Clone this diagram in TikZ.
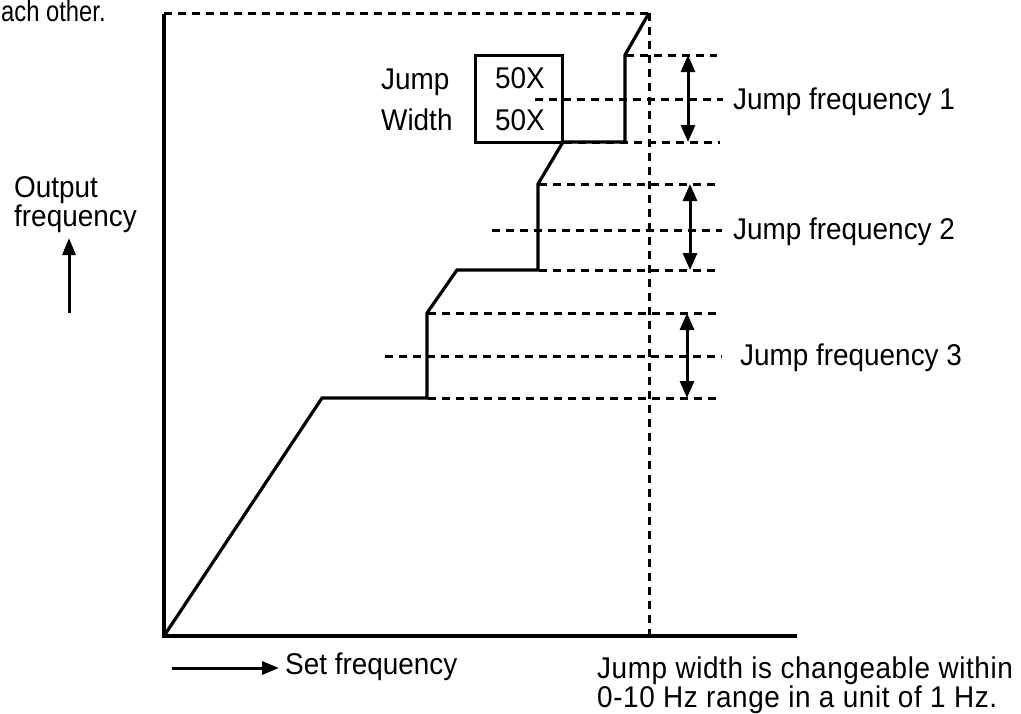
\documentclass[tikz,border=0pt]{standalone}
\usepackage{fontspec}
\setmainfont[FakeStretch=0.93]{Liberation Sans}
\newfontfamily\narrowfont[FakeStretch=0.82]{Liberation Sans}
\usetikzlibrary{arrows.meta}
\begin{document}
\begin{tikzpicture}[x=1pt,y=-1pt,
  txt/.style={inner sep=0pt,font=\fontsize{30}{33}\selectfont},
  axisline/.style={line width=3.6pt,line cap=rect},
  curve/.style={line width=3.2pt,line join=miter},
  dashline/.style={line width=3pt,dash pattern=on 8pt off 6pt},
  jumparrow/.style={line width=3pt,{Triangle[length=17pt,width=14pt]}-{Triangle[length=17pt,width=14pt]},shorten <=-1pt,shorten >=-1pt},
  plainarrow/.style={line width=3pt,-{Triangle[length=17pt,width=13pt]}}]
\useasboundingbox (0,0) rectangle (1021,713);
% axes
\coordinate (O) at (164,636);
\coordinate (ytop) at (164,16);
\coordinate (xend) at (795,636);
\draw[axisline] (ytop) -- (O) -- (xend);
% top dashed & vertical dotted
\coordinate (tl) at (164,13);
\coordinate (tr) at (649,13);
\coordinate (vb) at (649,636);
\draw[dashline] (tl) -- (tr);
\draw[dashline] (tr) -- (vb);
% step curve
\coordinate (p0) at (164,636);
\coordinate (p1) at (322,398);
\coordinate (p2) at (427,398);
\coordinate (p3) at (427,313);
\coordinate (p4) at (457,270);
\coordinate (p5) at (538,270);
\coordinate (p6) at (538,184);
\coordinate (p7) at (563,142);
\coordinate (p8) at (625,142);
\coordinate (p9) at (625,55);
\coordinate (p10) at (649,13);
\draw[curve] (p0) -- (p1) -- (p2) -- (p3) -- (p4) -- (p5) -- (p6) -- (p7) -- (p8) -- (p9) -- (p10);
% box
\node[draw,line width=3pt,minimum width=87pt,minimum height=87pt,inner sep=0pt] (box) at (518.5,98.5) {};
\node[txt,anchor=base west] (b1) at (495,88) {50X};
\node[txt,anchor=base west] (b2) at (495,130) {50X};
\node[txt,anchor=base west] (jw1) at (381,89) {Jump};
\node[txt,anchor=base west] (jw2) at (381,130) {Width};
% jump frequency 1
\coordinate (a1s) at (626,55);  \coordinate (a1e) at (717,55);
\coordinate (m1s) at (535,99);  \coordinate (m1e) at (723,99);
\coordinate (c1s) at (564,142); \coordinate (c1e) at (720,142);
\draw[dashline] (a1s) -- (a1e);
\draw[dashline] (m1s) -- (m1e);
\draw[dashline] (c1s) -- (c1e);
\coordinate (j1t) at (688,56); \coordinate (j1b) at (688,141);
\draw[jumparrow] (j1t) -- (j1b);
\node[txt,anchor=base west] (jf1) at (733,109) {Jump frequency 1};
% jump frequency 2
\coordinate (a2s) at (539,184);  \coordinate (a2e) at (717,184);
\coordinate (m2s) at (492,230);  \coordinate (m2e) at (722,230);
\coordinate (c2s) at (539,270);  \coordinate (c2e) at (717,270);
\draw[dashline] (a2s) -- (a2e);
\draw[dashline] (m2s) -- (m2e);
\draw[dashline] (c2s) -- (c2e);
\coordinate (j2t) at (690,185); \coordinate (j2b) at (690,269);
\draw[jumparrow] (j2t) -- (j2b);
\node[txt,anchor=base west] (jf2) at (733,239) {Jump frequency 2};
% jump frequency 3
\coordinate (a3s) at (428,313);  \coordinate (a3e) at (717,313);
\coordinate (m3s) at (385,356);  \coordinate (m3e) at (722,356);
\coordinate (c3s) at (428,398);  \coordinate (c3e) at (720,398);
\draw[dashline] (a3s) -- (a3e);
\draw[dashline] (m3s) -- (m3e);
\draw[dashline] (c3s) -- (c3e);
\coordinate (j3t) at (687,314); \coordinate (j3b) at (687,397);
\draw[jumparrow] (j3t) -- (j3b);
\node[txt,anchor=base west] (jf3) at (740,365) {Jump frequency 3};
% output frequency
\node[txt,anchor=base west] (of1) at (14,197) {Output};
\node[txt,anchor=base west] (of2) at (14,226) {frequency};
\coordinate (ua0) at (69,313); \coordinate (ua1) at (69,238);
\draw[plainarrow] (ua0) -- (ua1);
% set frequency
\coordinate (sa0) at (172,668); \coordinate (sa1) at (279,668);
\draw[plainarrow] (sa0) -- (sa1);
\node[txt,anchor=base west] (sf) at (285,674) {Set frequency};
% note
\node[txt,anchor=base west,font=\fontsize{30}{33}\addfontfeature{LetterSpace=2}] (n1) at (597,678) {Jump width is changeable within};
\node[txt,anchor=base west,font=\fontsize{30}{33}\addfontfeature{LetterSpace=2}] (n2) at (597,707) {0-10 Hz range in a unit of 1 Hz.};
% top-left fragment
\node[txt,anchor=base west,font=\narrowfont\fontsize{29}{32}\selectfont] (tf) at (1,21) {ach other.};
\end{tikzpicture}
\end{document}
